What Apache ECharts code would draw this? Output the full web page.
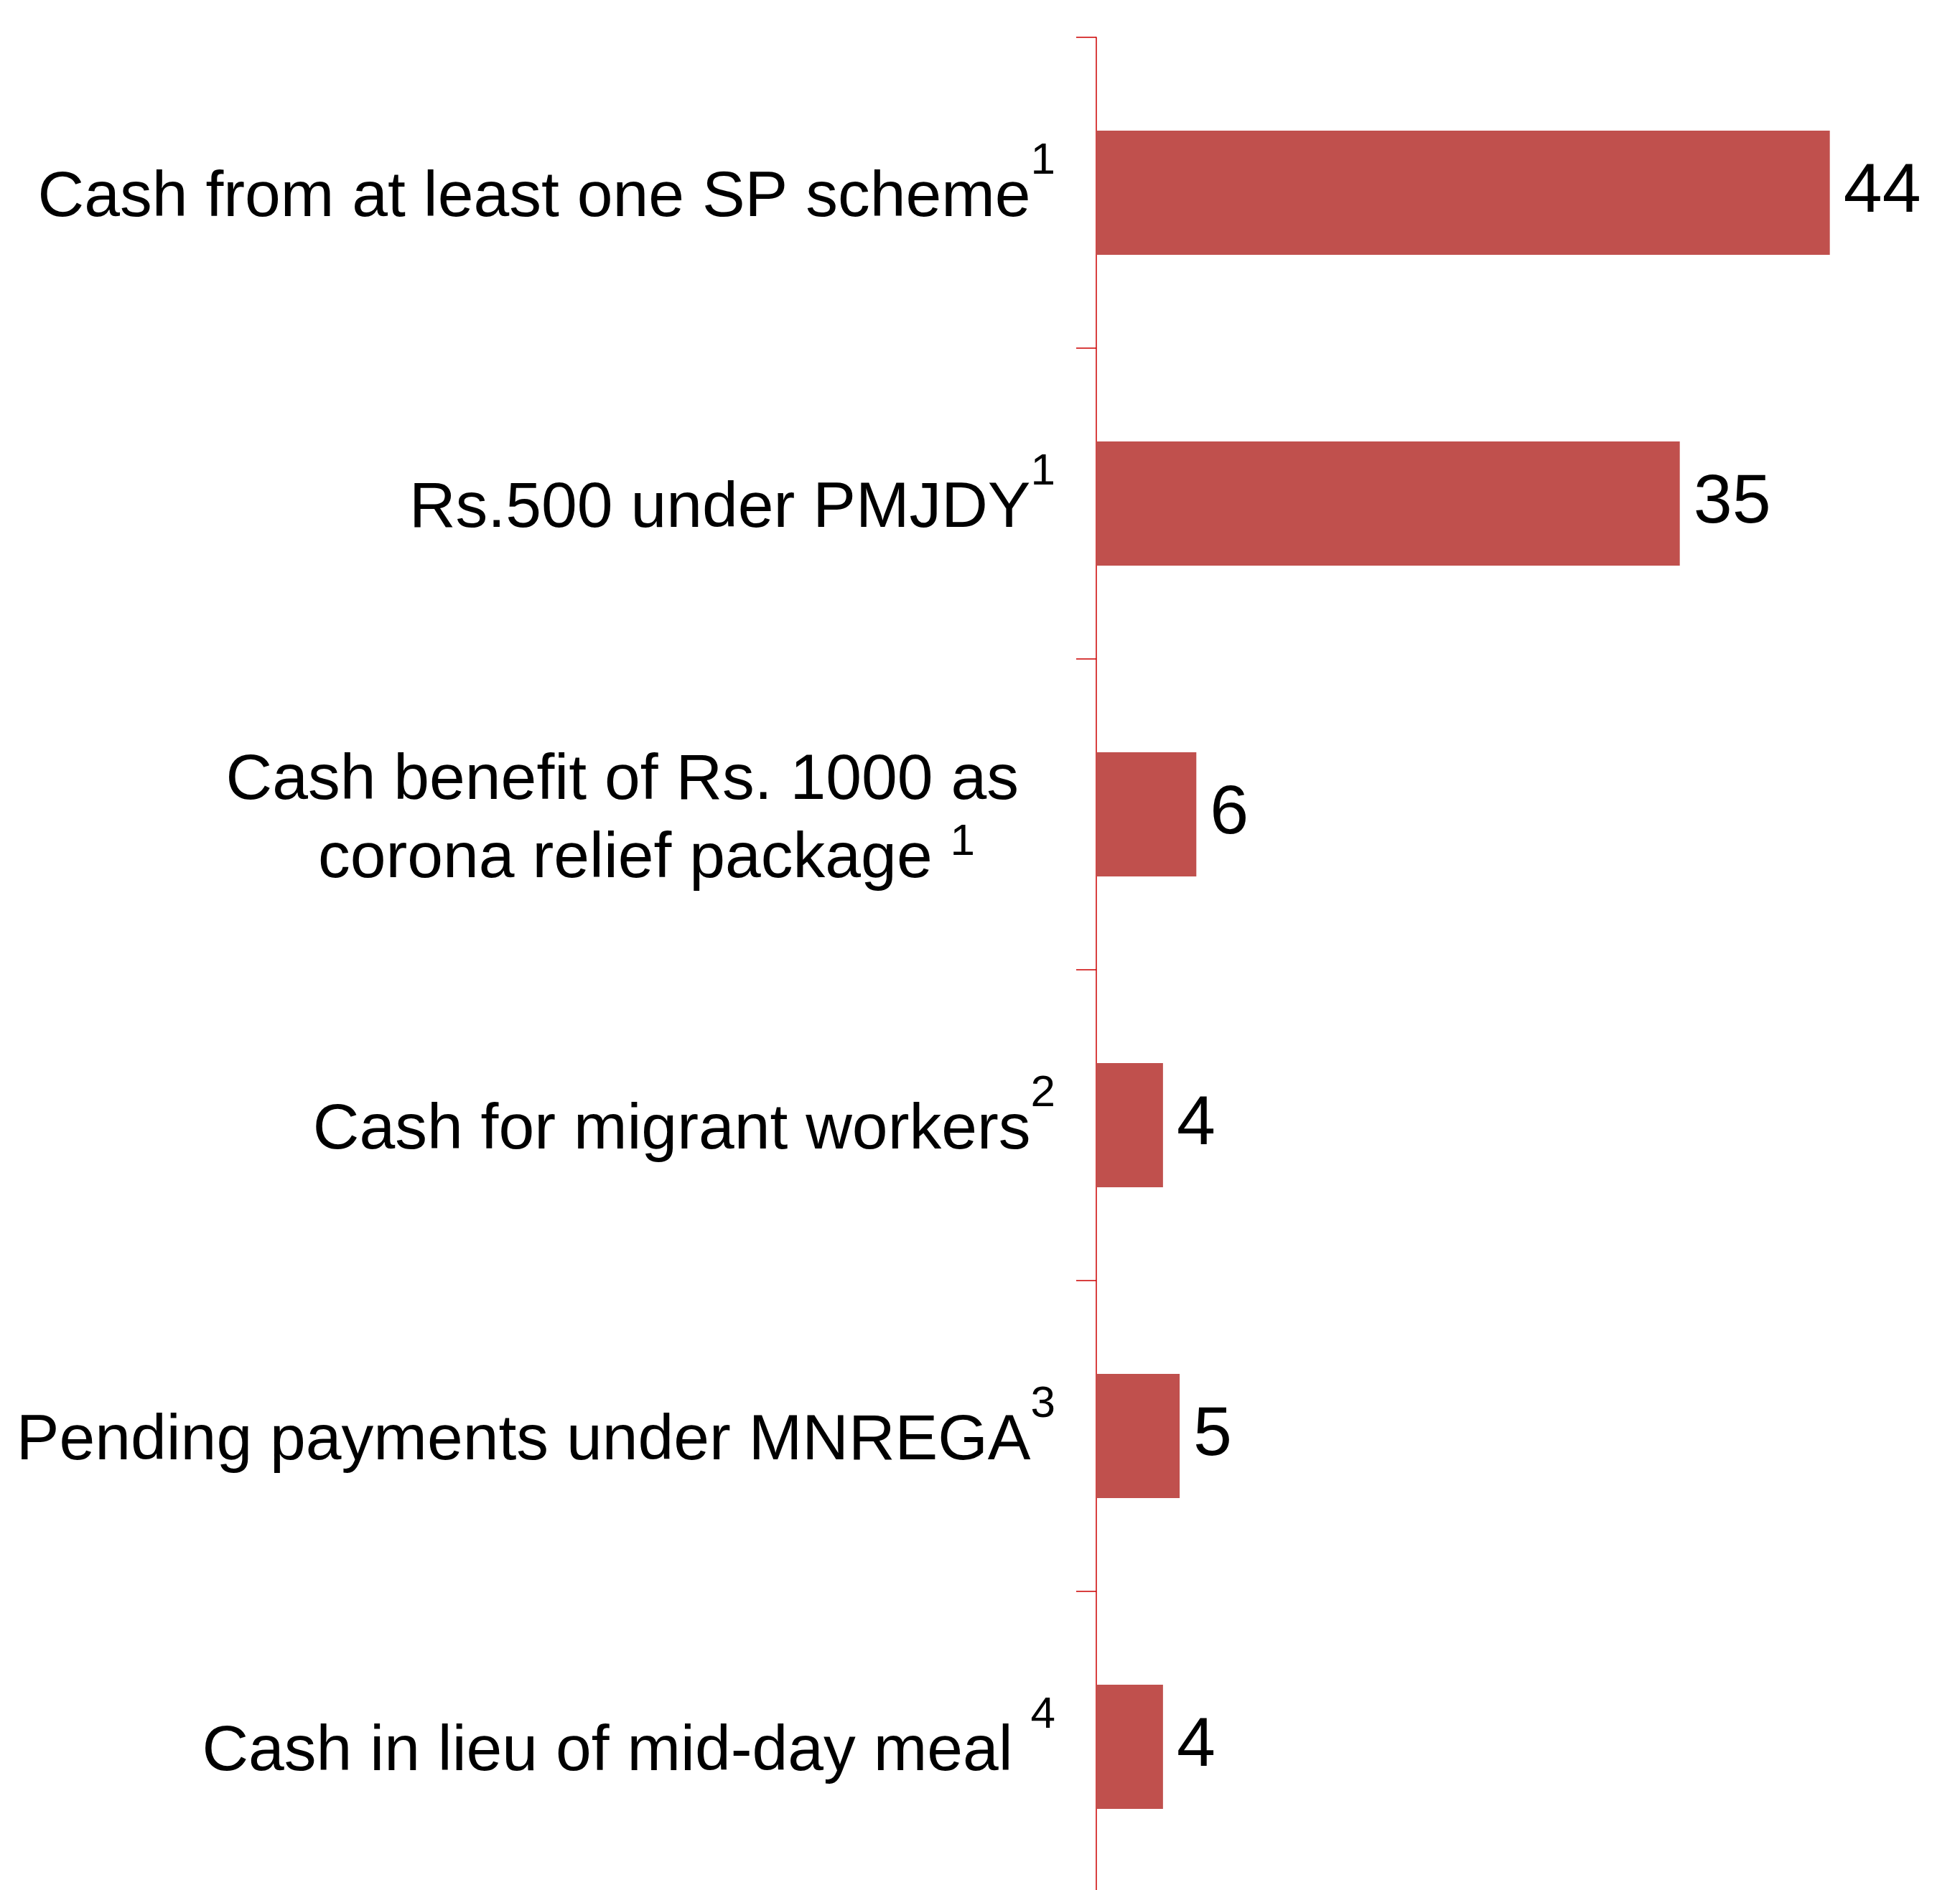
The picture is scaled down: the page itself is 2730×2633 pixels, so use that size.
<!DOCTYPE html>
<html>
<head>
<meta charset="utf-8">
<script src="https://cdn.jsdelivr.net/npm/echarts@6/dist/echarts.min.js"></script>
<style>
  html, body { margin: 0; padding: 0; background: #ffffff; }
  #chart { width: 2730px; height: 2633px; }
</style>
</head>
<body>
<div id="chart"></div>
<script>
const categories = [
  'Cash from at least one SP scheme',
  'Rs.500 under PMJDY',
  'Cash benefit of Rs. 1000 as\ncorona relief package',
  'Cash for migrant workers',
  'Pending payments under MNREGA',
  'Cash in lieu of mid-day meal'
];
const footnotes = ['1', '1', '1', '2', '3', '4'];
const footnoteSpaced = [false, false, true, false, false, true];
const values = [44, 35, 6, 4, 5, 4];

const chart = echarts.init(document.getElementById('chart'), null, { renderer: 'canvas' });
const FONT = '"Liberation Sans", Arial, sans-serif';
const RED = '#CC0000';

chart.setOption({
  animation: false,
  backgroundColor: '#ffffff',
  grid: { left: 1527, top: 52, width: 1161, height: 2598, containLabel: false, outerBoundsMode: 'none' },
  xAxis: {
    type: 'value', min: 0, max: 50,
    show: false
  },
  yAxis: {
    type: 'category',
    data: categories,
    inverse: true,
    axisLine: { show: true, lineStyle: { color: RED, width: 1.5 } },
    axisTick: { show: true, inside: false, length: 28, lineStyle: { color: RED, width: 1.5 } },
    splitLine: { show: false },
    axisLabel: {
      margin: 57,
      padding: [16, 0, 0, 0],
      color: '#000000',
      fontFamily: FONT,
      formatter: function (val, idx) {
        const lines = val.split('\n');
        const note = footnotes[idx];
        const sp = footnoteSpaced[idx] ? ' ' : '';
        if (lines.length === 1) {
          return '{m|' + lines[0] + sp + '}{s|' + note + '}';
        }
        return '{m3|' + lines[0] + '}{p1|\u00a0}\n{m3|' + lines[1] + sp + '}{s|' + note + '}{p2|\u00a0}';
      },
      rich: {
        m: { fontSize: 89.5, fontFamily: FONT, color: '#000', lineHeight: 166 },
        m3: { fontSize: 89.5, fontFamily: FONT, color: '#000', lineHeight: 109 },
        s: { fontSize: 62, fontFamily: FONT, color: '#000', lineHeight: 62, verticalAlign: 'top' },
        p1: { fontSize: 20, width: 51, lineHeight: 20 },
        p2: { fontSize: 20, width: 112, lineHeight: 20 }
      }
    }
  },
  series: [{
    type: 'bar',
    data: values,
    barWidth: '40%',
    itemStyle: { color: '#C0504D' },
    label: {
      show: true,
      position: 'right',
      distance: 19,
      color: '#000000',
      fontSize: 97,
      fontFamily: FONT
    }
  }]
});
</script>
</body>
</html>
